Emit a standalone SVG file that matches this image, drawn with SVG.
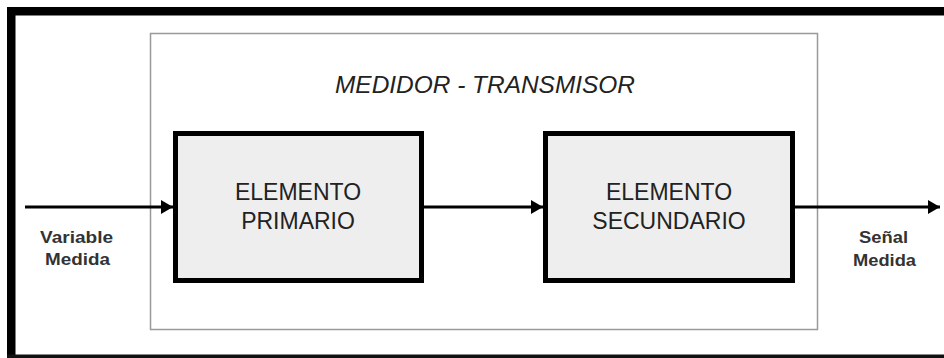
<svg xmlns="http://www.w3.org/2000/svg" width="944" height="358" viewBox="0 0 944 358">
  <style>
    .block { fill: #eeeeee; stroke: #000; stroke-width: 5; }
    .block-text { font-family: "Liberation Sans", Arial, sans-serif; font-size: 23px; fill: #222; text-anchor: middle; }
    .io-text { font-family: "Liberation Sans", Arial, sans-serif; font-size: 16px; font-weight: bold; fill: #333; text-anchor: middle; }
    .title { font-family: "Liberation Sans", Arial, sans-serif; font-size: 23px; font-style: italic; fill: #222; text-anchor: middle; }
    .flow { stroke: #000; stroke-width: 3; fill: none; marker-end: url(#head); }
  </style>
  <defs>
    <marker id="head" viewBox="0 0 12 14" refX="12" refY="7" markerWidth="12" markerHeight="14" markerUnits="userSpaceOnUse" orient="auto">
      <path d="M0,0 L12,7 L0,14 Z" fill="#000"/>
    </marker>
  </defs>

  <rect width="944" height="358" fill="#fff"/>

  <!-- page frame -->
  <g id="frame">
    <rect x="7" y="7" width="937" height="8.5" fill="#000"/>
    <rect x="7" y="7" width="8.5" height="351" fill="#000"/>
    <rect x="7" y="354.5" width="937" height="3.5" fill="#111"/>
  </g>

  <!-- measuring/transmitting enclosure -->
  <g id="medidor-transmisor">
    <rect x="150.5" y="33.5" width="667" height="296" fill="none" stroke="#999" stroke-width="1.5"/>
    <text class="title" x="485" y="93" textLength="300" lengthAdjust="spacingAndGlyphs">MEDIDOR - TRANSMISOR</text>
  </g>

  <g id="elemento-primario">
    <rect class="block" x="175.5" y="133.5" width="246" height="147"/>
    <text class="block-text" x="298" y="200">ELEMENTO</text>
    <text class="block-text" x="298" y="229">PRIMARIO</text>
  </g>

  <g id="elemento-secundario">
    <rect class="block" x="545.5" y="133.5" width="247" height="147"/>
    <text class="block-text" x="669" y="200">ELEMENTO</text>
    <text class="block-text" x="669" y="229">SECUNDARIO</text>
  </g>

  <g id="variable-medida">
    <text class="io-text" x="76.5" y="243" textLength="73" lengthAdjust="spacingAndGlyphs">Variable</text>
    <text class="io-text" x="77.5" y="265" textLength="65" lengthAdjust="spacingAndGlyphs">Medida</text>
  </g>

  <g id="senal-medida">
    <text class="io-text" x="883.5" y="243" textLength="49" lengthAdjust="spacingAndGlyphs">Señal</text>
    <text class="io-text" x="884.5" y="266" textLength="63" lengthAdjust="spacingAndGlyphs">Medida</text>
  </g>

  <g id="connectors">
    <line class="flow" x1="25" y1="207" x2="173" y2="207"/>
    <line class="flow" x1="424" y1="207" x2="543" y2="207"/>
    <line class="flow" x1="795" y1="207" x2="940" y2="207"/>
  </g>
</svg>
